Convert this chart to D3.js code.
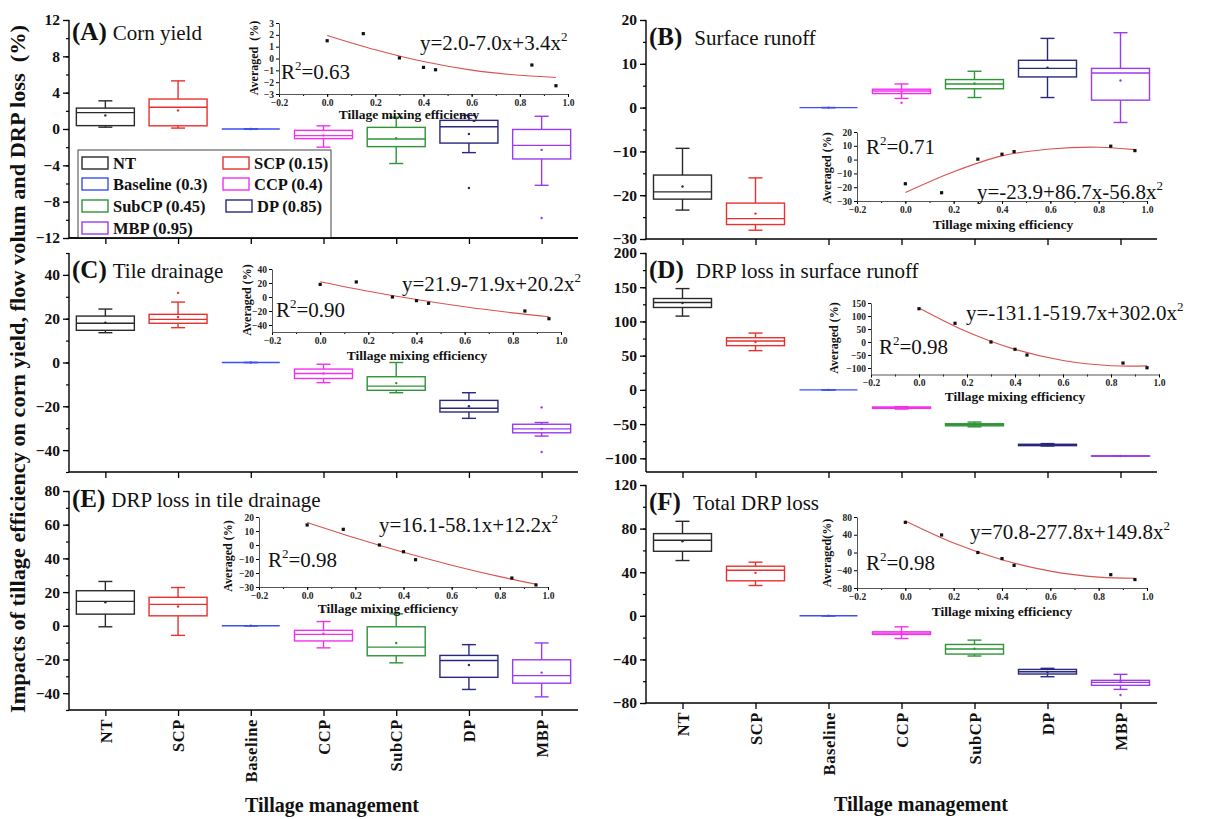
<!DOCTYPE html>
<meta charset="utf-8">
<head>
<style>
  body { margin: 0; background: #fff; }
  text { font-family: "Liberation Serif", "Times New Roman", serif; }
  .tick text { font-weight: bold; }
</style>
</head>
<body>
<div id="chart"></div>
<script src="https://d3js.org/d3.v7.min.js"></script>
<script>
// ---- data ----
var categories = ["NT", "SCP", "Baseline", "CCP", "SubCP", "DP", "MBP"];
var legendLabels = ["NT", "SCP (0.15)", "Baseline (0.3)", "CCP (0.4)", "SubCP (0.45)", "DP (0.85)", "MBP (0.95)"];
var colors = ["#2a2a2a", "#e8312e", "#3b4ff2", "#f230ee", "#2f9438", "#28287f", "#9b3bf0"];
var mixEff = [0, 0.15, 0.3, 0.4, 0.45, 0.85, 0.95];
var fitX = [0, 0.2, 0.4, 0.6, 0.8, 0.95];

// box stats per category: [low whisker, q1, median, q3, high whisker, mean]
var cornYield = [[0.2, 0.37, 1.8, 2.3, 3.1, 1.5], [0.1, 0.35, 2.4, 3.3, 5.3, 2.05], [0, 0, 0, 0, 0, 0],
  [-2.0, -1.06, -0.73, -0.15, 0.35, -0.7], [-3.8, -1.94, -1.1, 0.18, 1.3, -1.0],
  [-2.6, -1.55, 0.25, 0.95, 1.5, -0.55], [-6.2, -3.3, -1.8, -0.05, 1.4, -2.3]];
var cornYieldOut = [[5, -6.5], [6, -9.8]];

var runoff = [[-23.4, -20.9, -19.25, -15.4, -9.3, -18.0], [-28.0, -26.7, -25.35, -21.8, -16.05, -24.2], [0, 0, 0, 0, 0, 0],
  [2.1, 3.2, 3.8, 4.2, 5.4, 3.6], [2.3, 4.3, 5.4, 6.4, 8.3, 5.5],
  [2.3, 7.0, 8.95, 10.8, 15.8, 9.1], [-3.4, 1.7, 7.9, 8.95, 17.1, 6.2]];
var runoffOut = [[3, 1.1]];

var tile = [[13.6, 14.7, 17.9, 21.2, 24.4, 18.2], [15.9, 17.9, 19.7, 22.0, 27.6, 20.8], [0, 0, 0, 0, 0, 0],
  [-9.2, -7.3, -5.0, -3.0, -0.8, -5.0], [-13.8, -12.7, -10.8, -6.5, 0, -9.4],
  [-25.5, -22.6, -20.9, -17.3, -13.8, -20.0], [-33.6, -32.1, -30.3, -28.2, -27.4, -30.3]];
var tileOut = [[1, 31.8], [6, -20.5], [6, -40.9]];

var drpRunoff = [[107.8, 120.4, 127.7, 133.5, 148, 127], [57.3, 64.6, 71.4, 76.2, 83, 70], [0, 0, 0, 0, 0, 0],
  [-28, -27, -26, -25, -24.5, -26], [-54, -52.5, -51, -49.5, -47, -51],
  [-82, -81.5, -80.6, -79.5, -78.5, -80.6], [-97, -96.8, -96.6, -96.4, -96.2, -96.6]];
var drpRunoffOut = [];

var drpTile = [[-0.6, 6.9, 14.5, 20.8, 26.3, 13.9], [-5.7, 5.9, 12.7, 16.9, 22.7, 11.4], [0, 0, 0, 0, 0, 0],
  [-13.1, -9.0, -5.1, -2.7, 2.5, -4.7], [-22, -17.8, -12.7, -0.6, 7.1, -10.2],
  [-37.8, -30.6, -20.6, -17.6, -11.2, -23.3], [-42.2, -34.1, -29.6, -20.2, -10.2, -27.8]];
var drpTileOut = [[3, 8.5]];

var drpTotal = [[50.7, 59.2, 69.3, 75.4, 86.7, 68.4], [27.8, 32.1, 41.8, 45.5, 49.2, 39.4], [0, 0, 0, 0, 0, 0],
  [-20.8, -17.1, -15.9, -14.7, -10.1, -16], [-36.9, -35.1, -30.5, -26.3, -22.3, -30.2],
  [-55.9, -53.4, -51.3, -49.2, -48.2, -51.6], [-67.5, -63.8, -61.1, -59.2, -53.7, -60.8]];
var drpTotalOut = [[6, -72.7]];

// averaged values vs. tillage mixing efficiency (insets) and fitted curves
var cornAvg = [1.5, 2.1, 0.05, -0.75, -0.95, -0.55, -2.3];
var cornFit = [1.95, 0.74, -0.26, -0.98, -1.42, -1.6];
var runoffAvg = [-17.5, -24, 0.3, 3.9, 5.8, 9.7, 6.5];
var runoffFit = [-23.9, -8.8, 2.7, 7.7, 9.0, 7.2];
var tileAvg = [18, 21.5, 0, -5.2, -9.0, -20, -31];
var tileFit = [21.9, 8.3, -3.6, -14.0, -22.7, -28.2];
var drpRunoffAvg = [128, 72, 0, -28, -50, -81, -99];
var drpRunoffFit = [131, 39.3, -28.3, -71.0, -91.2, -92];
var drpTileAvg = [14.3, 11.2, 0, -4.8, -10.5, -23.6, -28.5];
var drpTileFit = [16.1, 5.0, -5.2, -14.4, -22.6, -28.0];
var drpTotalAvg = [68, 39.5, 0, -13.7, -29, -50, -61];
var drpTotalFit = [70.8, 21.2, -16.4, -42.0, -55.6, -57.9];

var equations = ["y=2.0-7.0x+3.4x", "y=-23.9+86.7x-56.8x", "y=21.9-71.9x+20.2x",
  "y=-131.1-519.7x+302.0x", "y=16.1-58.1x+12.2x", "y=70.8-277.8x+149.8x"];
var r2 = ["0.63", "0.71", "0.90", "0.98", "0.98", "0.98"];

// ---- layout ----
var W = 1207, H = 819;
var svg = d3.select("#chart").append("svg").attr("width", W).attr("height", H);

var cols = [{ axisX: 69, right: 578 }, { axisX: 646, right: 1157 }];

var panels = [
  { letter: "A", name: "Corn yield", col: 0, top: 20, bottom: 238, domain: [-12, 12], major: 4, minor: 2,
    stats: cornYield, out: cornYieldOut, ty: 40, nameGap: 6,
    inset: { x: [279, 568], y: [94, 23], domain: [-3, 3], step: 1, avg: cornAvg, fit: cornFit, ylab: "Averaged  (%)",
      eq: [420, 50], r2: [281, 79], title: [409, 119], ylabPos: [258, 58] } },
  { letter: "B", name: "Surface runoff", col: 1, top: 20, bottom: 239, domain: [-30, 20], major: 10, minor: 5,
    stats: runoff, out: runoffOut, ty: 45, nameGap: 12,
    inset: { x: [857, 1147], y: [201, 132], domain: [-30, 20], step: 10, avg: runoffAvg, fit: runoffFit, ylab: "Averaged (%)",
      eq: [977, 199], r2: [866, 154], title: [1003, 229], ylabPos: [831, 168] } },
  { letter: "C", name: "Tile drainage", col: 0, top: 253, bottom: 472, domain: [-50, 50], major: 20, minor: 10,
    stats: tile, out: tileOut, ty: 278, nameGap: 6,
    inset: { x: [272, 561], y: [332, 269], domain: [-50, 40], step: 20, avg: tileAvg, fit: tileFit, ylab: "Averaged (%)",
      eq: [402, 291], r2: [276, 317], title: [417, 360], ylabPos: [251, 300] } },
  { letter: "D", name: "DRP loss in surface runoff", col: 1, top: 253, bottom: 472, domain: [-120, 200], major: 50, minor: 25,
    stats: drpRunoff, out: drpRunoffOut, ty: 278, nameGap: 12,
    inset: { x: [871, 1159], y: [374.5, 303], domain: [-125, 150], step: 50, avg: drpRunoffAvg, fit: drpRunoffFit, ylab: "Averaged (%)",
      eq: [966, 320], r2: [879, 354], title: [1015, 401], ylabPos: [838, 338] } },
  { letter: "E", name: "DRP loss in tile drainage", col: 0, top: 491, bottom: 710, domain: [-50, 80], major: 20, minor: 10,
    stats: drpTile, out: drpTileOut, ty: 507, nameGap: 6, xlabels: true,
    inset: { x: [259, 548], y: [587, 517], domain: [-30, 20], step: 10, avg: drpTileAvg, fit: drpTileFit, ylab: "Averaged (%)",
      eq: [379, 532], r2: [268, 567], title: [388, 613], ylabPos: [232, 556] } },
  { letter: "F", name: "Total DRP loss", col: 1, top: 485, bottom: 703, domain: [-80, 120], major: 40, minor: 20,
    stats: drpTotal, out: drpTotalOut, ty: 510, nameGap: 12, xlabels: true,
    inset: { x: [857, 1147], y: [588, 517], domain: [-80, 80], step: 40, avg: drpTotalAvg, fit: drpTotalFit, ylab: "Averaged(%)",
      eq: [970, 539], r2: [866, 570], title: [1002, 616], ylabPos: [831, 553] } }
];

// tick positions: multiples of step inside [a, b]
function ticks(a, b, s) {
  var r = [];
  for (var v = Math.ceil(a / s - 1e-9) * s; v <= b + 1e-9; v += s) r.push(+v.toFixed(6));
  return r;
}

panels.forEach(function(p, pi) {
  var c = cols[p.col];
  var g = svg.append("g");
  var x = d3.scalePoint().domain(categories).range([c.axisX, c.right]).padding(0.5);
  var y = d3.scaleLinear().domain(p.domain).range([p.bottom, p.top]);

  // y axis: minor ticks then major
  g.append("g").attr("transform", "translate(" + c.axisX + ",0)")
    .call(d3.axisLeft(y).tickValues(ticks(p.domain[0], p.domain[1], p.minor)).tickSize(3).tickFormat(""))
    .call(function(s) { s.select(".domain").remove(); s.selectAll("line").attr("stroke-width", 1.2); });
  g.append("g").attr("transform", "translate(" + c.axisX + ",0)")
    .call(d3.axisLeft(y).tickValues(ticks(p.domain[0], p.domain[1], p.major)).tickSize(6).tickSizeOuter(0).tickPadding(3))
    .call(function(s) {
      s.select(".domain").attr("d", "M0," + p.bottom + "V" + p.top).attr("stroke-width", 1.4);
      s.selectAll("line").attr("stroke-width", 1.3);
      s.selectAll("text").style("font-size", "15.5px").attr("fill", "#111");
    });

  // x axis
  var xa = g.append("g").attr("transform", "translate(0," + p.bottom + ")")
    .call(d3.axisBottom(x).tickSize(6).tickSizeOuter(0))
    .call(function(s) {
      s.select(".domain").attr("d", "M" + c.axisX + ",0H" + c.right).attr("stroke-width", 1.6);
      s.selectAll("line").attr("stroke-width", 1.3);
    });
  if (p.xlabels) {
    xa.selectAll("text")
      .attr("transform", "rotate(-90)")
      .attr("x", -9).attr("y", 0).attr("dy", "0.35em")
      .style("text-anchor", "end").style("font-size", "16.5px").style("letter-spacing", "0.6px")
      .attr("fill", "#111");
  } else {
    xa.selectAll("text").remove();
  }

  // boxes
  var bw = 58, cap = 14;
  p.stats.forEach(function(s, i) {
    var cx = x(categories[i]), col = colors[i];
    var bg = g.append("g").attr("stroke", col).attr("fill", "none").attr("stroke-width", 1.4);
    bg.append("line").attr("x1", cx).attr("x2", cx).attr("y1", y(s[4])).attr("y2", y(s[3]));
    bg.append("line").attr("x1", cx).attr("x2", cx).attr("y1", y(s[1])).attr("y2", y(s[0]));
    bg.append("line").attr("x1", cx - cap / 2).attr("x2", cx + cap / 2).attr("y1", y(s[4])).attr("y2", y(s[4]));
    bg.append("line").attr("x1", cx - cap / 2).attr("x2", cx + cap / 2).attr("y1", y(s[0])).attr("y2", y(s[0]));
    bg.append("rect").attr("x", cx - bw / 2).attr("width", bw)
      .attr("y", y(s[3])).attr("height", Math.max(0, y(s[1]) - y(s[3])));
    bg.append("line").attr("x1", cx - bw / 2).attr("x2", cx + bw / 2).attr("y1", y(s[2])).attr("y2", y(s[2]));
    g.append("circle").attr("cx", cx).attr("cy", y(s[5])).attr("r", 1.2).attr("fill", col);
  });
  p.out.forEach(function(o) {
    g.append("circle").attr("cx", x(categories[o[0]])).attr("cy", y(o[1])).attr("r", 1.2).attr("fill", colors[o[0]]);
  });

  // panel title
  var t = g.append("text").attr("x", c.axisX + 3).attr("y", p.ty).attr("fill", "#111");
  t.append("tspan").text("(" + p.letter + ")").style("font-weight", "bold").style("font-size", "25px");
  t.append("tspan").attr("dx", p.nameGap).text(p.name).style("font-size", "21px");

  // inset
  var q = p.inset;
  var ix = d3.scaleLinear().domain([-0.2, 1.0]).range(q.x);
  var iy = d3.scaleLinear().domain(q.domain).range(q.y);
  var ig = svg.append("g");
  ig.append("g").attr("transform", "translate(0," + q.y[0] + ")")
    .call(d3.axisBottom(ix).tickValues(ticks(-0.2, 1.0, 0.1)).tickSize(2).tickFormat(""))
    .call(function(s) { s.select(".domain").remove(); });
  ig.append("g").attr("transform", "translate(0," + q.y[0] + ")")
    .call(d3.axisBottom(ix).tickValues(ticks(-0.2, 1.0, 0.2)).tickSize(3).tickSizeOuter(0).tickPadding(2).tickFormat(d3.format(".1f")))
    .call(function(s) {
      s.select(".domain").attr("stroke", "#555");
      s.selectAll("text").style("font-size", "9.5px").attr("fill", "#222");
    });
  ig.append("g").attr("transform", "translate(" + q.x[0] + ",0)")
    .call(d3.axisLeft(iy).tickValues(ticks(q.domain[0], q.domain[1], q.step)).tickSize(3).tickSizeOuter(0).tickPadding(2).tickFormat(d3.format("d")))
    .call(function(s) {
      s.select(".domain").attr("stroke", "#555");
      s.selectAll("text").style("font-size", "9.5px").attr("fill", "#222");
    });

  var fitPts = fitX.map(function(v, i) { return [v, q.fit[i]]; });
  ig.append("path").datum(fitPts)
    .attr("d", d3.line().x(function(d) { return ix(d[0]); }).y(function(d) { return iy(d[1]); }).curve(d3.curveCatmullRom))
    .attr("fill", "none").attr("stroke", "#d9534f").attr("stroke-width", 1.1);
  ig.selectAll(".pt").data(q.avg).enter().append("rect")
    .attr("x", function(d, i) { return ix(mixEff[i]) - 1.6; })
    .attr("y", function(d) { return iy(d) - 1.6; })
    .attr("width", 3.2).attr("height", 3.2).attr("fill", "#111");

  ig.append("text").attr("x", q.title[0]).attr("y", q.title[1]).attr("text-anchor", "middle")
    .style("font-weight", "bold").style("font-size", "13.5px").attr("fill", "#111").text("Tillage mixing efficiency");
  ig.append("text").attr("transform", "translate(" + q.ylabPos[0] + "," + q.ylabPos[1] + ") rotate(-90)")
    .attr("text-anchor", "middle").style("font-weight", "bold").style("font-size", "12px")
    .style("white-space", "pre").attr("fill", "#111").text(q.ylab);

  var et = ig.append("text").attr("x", q.eq[0]).attr("y", q.eq[1]).style("font-size", "21px").attr("fill", "#111");
  et.append("tspan").text(equations[pi]);
  et.append("tspan").attr("dy", -9).style("font-size", "13px").text("2");
  var rt = ig.append("text").attr("x", q.r2[0]).attr("y", q.r2[1]).style("font-size", "21px").attr("fill", "#111");
  rt.append("tspan").text("R");
  rt.append("tspan").attr("dy", -9).style("font-size", "13px").text("2");
  rt.append("tspan").attr("dy", 9).text("=" + r2[pi]);
});

// legend (inside panel A)
var lg = svg.append("g");
lg.append("rect").attr("x", 78).attr("y", 150).attr("width", 253).attr("height", 88)
  .attr("fill", "#fff").attr("stroke", "#444").attr("stroke-width", 1);
var legPos = [[82, 163], [223, 163], [82, 184], [223, 184], [82, 206], [226, 206], [82, 228]];
legendLabels.forEach(function(l, i) {
  var p = legPos[i];
  lg.append("rect").attr("x", p[0]).attr("y", p[1] - 6).attr("width", 26).attr("height", 12)
    .attr("fill", "none").attr("stroke", colors[i]).attr("stroke-width", 1.4);
  lg.append("text").attr("x", p[0] + 31).attr("y", p[1]).attr("dy", "0.35em")
    .style("font-weight", "bold").style("font-size", "16.5px").attr("fill", "#111").text(l);
});

// redraw panel A bottom axis line on top of legend
svg.append("line").attr("x1", cols[0].axisX).attr("x2", cols[0].right).attr("y1", 238).attr("y2", 238)
  .attr("stroke", "#000").attr("stroke-width", 1.6);

// axis titles
svg.append("text").attr("transform", "translate(25,369) rotate(-90)")
  .attr("text-anchor", "middle").style("font-weight", "bold").style("font-size", "22px")
  .attr("textLength", 688).attr("lengthAdjust", "spacingAndGlyphs")
  .style("white-space", "pre").attr("fill", "#111")
  .text("Impacts of tillage efficiency on corn yield, flow volum and DRP loss  (%)");
svg.append("text").attr("x", 332).attr("y", 812).attr("text-anchor", "middle")
  .style("font-weight", "bold").style("font-size", "20px")
  .attr("textLength", 174).attr("lengthAdjust", "spacingAndGlyphs")
  .attr("fill", "#111").text("Tillage management");
svg.append("text").attr("x", 921).attr("y", 811).attr("text-anchor", "middle")
  .style("font-weight", "bold").style("font-size", "20px")
  .attr("textLength", 174).attr("lengthAdjust", "spacingAndGlyphs")
  .attr("fill", "#111").text("Tillage management");
</script>
</body>
